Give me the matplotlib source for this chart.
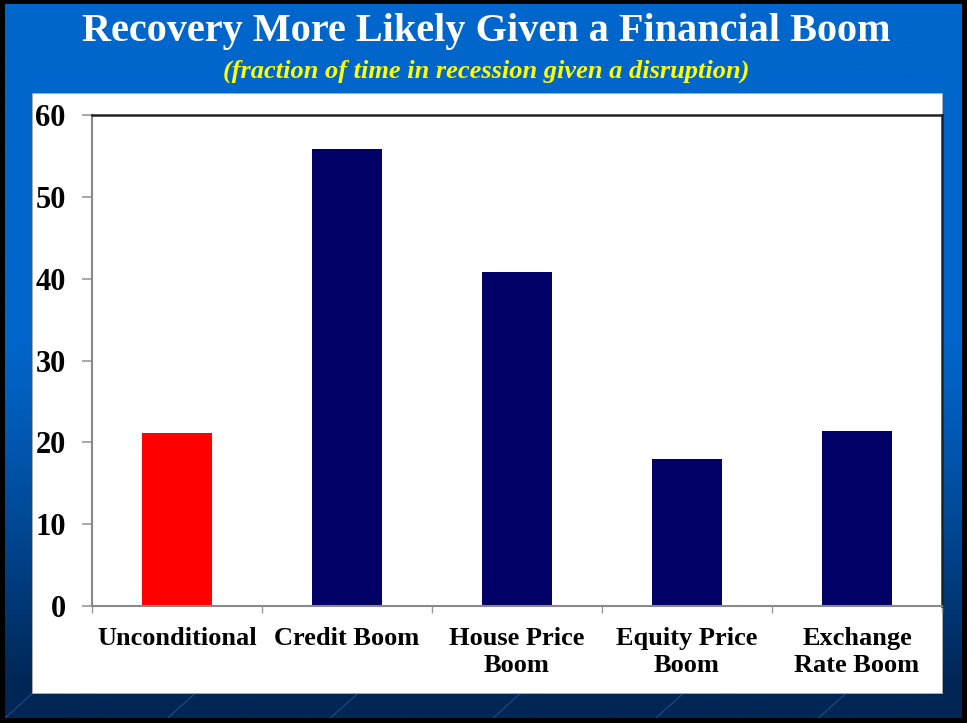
import matplotlib.pyplot as plt
import numpy as np
from matplotlib.patches import Rectangle

categories = ["Unconditional", "Credit Boom", "House Price\nBoom",
              "Equity Price\nBoom", "Exchange\nRate Boom"]
values = [21.1, 55.8, 40.8, 18.0, 21.4]
bar_colors = ["#FF0000", "#000066", "#000066", "#000066", "#000066"]
yticks = [0, 10, 20, 30, 40, 50, 60]

title = "Recovery More Likely Given a Financial Boom"
subtitle = "(fraction of time in recession given a disruption)"

SERIF = ["Liberation Serif", "DejaVu Serif"]

fig = plt.figure(figsize=(9.67, 7.23), dpi=100)
fig.patch.set_facecolor("black")

# slide background: blue gradient top to dark navy bottom
bg = fig.add_axes([5 / 967, 5 / 723, 957 / 967, 714 / 723])
bg.set_axis_off()
grad = np.linspace(0, 1, 256).reshape(-1, 1)
top_c = np.array([0x00, 0x66, 0xCC]) / 255
bot_c = np.array([0x00, 0x26, 0x55]) / 255
w = np.clip((grad - 0.45) / 0.5, 0, 1) ** 1.3
img = top_c * (1 - w[..., None]) + bot_c * w[..., None]
bg.imshow(img, aspect="auto", extent=[0, 1, 0, 1], origin="upper")
# faint diagonal streaks near the bottom
for x0 in np.arange(0.0, 1.1, 0.17):
    bg.plot([x0, x0 + 0.05], [0.0, 0.06], color="#2f65a8", lw=0.8, alpha=0.6)
bg.set_xlim(0, 1)
bg.set_ylim(0, 1)

# white chart panel
panel = fig.add_axes([32 / 967, 1 - 694 / 723, 911 / 967, 601 / 723])
panel.set_axis_off()
panel.add_patch(Rectangle((0, 0), 1, 1, transform=panel.transAxes,
                          facecolor="white", edgecolor="#9a9a9a", lw=1.2))

fig.text(0.503, 1 - 32 / 723, title, ha="center", va="center",
         color="white", fontsize=29, fontweight="bold", family=SERIF)
fig.text(0.503, 1 - 71 / 723, subtitle, ha="center", va="center",
         color="#FFFF00", fontsize=19, fontweight="bold", style="italic",
         family=SERIF)

ax = fig.add_axes([92 / 967, 1 - 606 / 723, 850 / 967, 491 / 723])
x = np.arange(len(categories))
ax.bar(x, values, width=0.41, color=bar_colors, zorder=2)
ax.set_xlim(-0.5, len(categories) - 0.5)
ax.set_ylim(0, 60)
ax.set_yticks(yticks)
ax.set_yticklabels([str(t) for t in yticks], fontsize=22, fontweight="bold",
                   family=SERIF)
ax.tick_params(axis="y", length=7, width=1.2, color="#9a9a9a", pad=12)

# category boundaries as x ticks, labels at centres
ax.set_xticks(np.arange(len(categories) + 1) - 0.5)
ax.set_xticklabels([])
ax.tick_params(axis="x", which="major", length=5, width=1.0, color="#9a9a9a")
ax.set_xticks(x, minor=True)
ax.set_xticklabels(categories, minor=True, fontsize=19, fontweight="bold",
                   family=SERIF, linespacing=1.22, va="top")
ax.tick_params(axis="x", which="minor", length=0, pad=15)

for side in ("top", "right"):
    ax.spines[side].set_color("#222222")
    ax.spines[side].set_linewidth(1.8)
for side in ("left", "bottom"):
    ax.spines[side].set_color("#8a8a8a")
    ax.spines[side].set_linewidth(1.5)

fig.savefig("out.png", dpi=100, facecolor=fig.get_facecolor())
